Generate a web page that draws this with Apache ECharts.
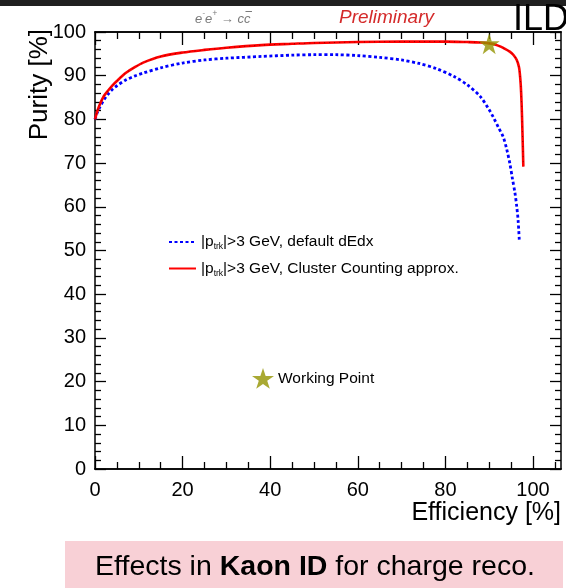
<!DOCTYPE html>
<html>
<head>
<meta charset="utf-8">
<script src="https://cdn.jsdelivr.net/npm/echarts@6/dist/echarts.min.js"></script>
<style>
  html, body { margin: 0; padding: 0; background: #fff; }
  #chart { width: 566px; height: 588px; }
</style>
</head>
<body>
<div id="chart"></div>
<script>
// Purity vs efficiency for kaon ID, |p_trk| > 3 GeV
const effDefault = [0, 0.5, 1, 2, 3, 4, 5, 7, 9, 11, 15, 20, 25, 30, 38, 45, 50, 55, 60, 65, 70, 74, 78, 82, 85, 88, 90, 91, 92.2, 93.2, 94, 94.7, 95.3, 95.9, 96.3, 96.6, 96.9];
const purDefault = [80, 81.5, 82.6, 84.4, 85.8, 86.9, 87.7, 89, 89.9, 90.6, 91.8, 92.9, 93.6, 94.0, 94.4, 94.7, 94.8, 94.8, 94.6, 94.2, 93.6, 92.8, 91.6, 89.8, 87.9, 85.2, 82.2, 80.4, 78, 76, 73.2, 70, 66.5, 63.1, 60, 57, 52];

const effCluster = [0, 0.5, 1, 2, 3, 4, 5, 7, 9, 11, 15, 20, 25, 30, 38, 45, 50, 60, 70, 80, 85, 88, 90, 91.5, 92.5, 93.5, 94.7, 95.5, 96.3, 96.8, 97.0, 97.2, 97.4, 97.6, 97.8];
const purCluster = [80, 81.8, 83.2, 85.3, 86.6, 87.8, 88.8, 90.6, 91.9, 93.0, 94.4, 95.3, 95.9, 96.4, 97.0, 97.3, 97.5, 97.7, 97.8, 97.8, 97.7, 97.6, 97.4, 97.1, 96.7, 96.2, 95.5, 94.8, 93.6, 92, 90.5, 88, 83.7, 77, 69.2];

const workingPoint = [90, 97.3];

const xMajor = [0, 20, 40, 60, 80, 100];
const xMinor = [5, 10, 15, 25, 30, 35, 45, 50, 55, 65, 70, 75, 85, 90, 95, 105];

const FONT = '"Liberation Sans", Arial, Helvetica, sans-serif';
const STAR = 'path://M50,0 L61.8,35.3 L99,35.3 L68.8,57.1 L80.3,92.7 L50,70.9 L19.7,92.7 L31.2,57.1 L1,35.3 L38.2,35.3 Z';

const pairs = (xs, ys) => xs.map((x, i) => [x, ys[i]]);

const chart = echarts.init(document.getElementById('chart'), null, { renderer: 'canvas' });

const axisLine = { show: true, onZero: false, lineStyle: { color: '#000', width: 1.5 } };

function xAxisDef(position, values, len, labels) {
  return {
    type: 'value', position: position, min: 0, max: 106.4,
    axisLine: axisLine,
    splitLine: { show: false },
    axisTick: { show: true, inside: true, length: len, customValues: values, lineStyle: { color: '#000', width: 1.3 } },
    axisLabel: labels ? { show: true, customValues: xMajor, margin: 11, fontSize: 20, color: '#000', fontFamily: FONT } : { show: false }
  };
}
function yAxisDef(position, labels) {
  return {
    type: 'value', position: position, min: 0, max: 100, interval: 10,
    axisLine: axisLine,
    splitLine: { show: false },
    axisTick: { show: true, inside: true, length: 11, lineStyle: { color: '#000', width: 1.3 } },
    minorTick: { show: true, splitNumber: 5, length: 6, lineStyle: { color: '#000', width: 1.3 } },
    axisLabel: labels ? { show: true, margin: 9, fontSize: 20, color: '#000', fontFamily: FONT } : { show: false }
  };
}

const legendRich = { sub: { fontSize: 8.5, padding: [10, 0, 0, 0], fontFamily: FONT, color: '#000' } };
const legendText = {
  'default dEdx': '|p{sub|trk}|>3 GeV, default dEdx',
  'Cluster Counting approx.': '|p{sub|trk}|>3 GeV, Cluster Counting approx.'
};

// process label e-e+ -> c cbar, laid out piece by piece
const measureCtx = document.createElement('canvas').getContext('2d');
function textWidth(str, font) { measureCtx.font = font; return measureCtx.measureText(str).width; }
const procFont = 'italic 13px ' + FONT;
const procSupFont = 'italic 8.5px ' + FONT;
const procPieces = [
  { t: 'e', f: procFont, dy: 0 },
  { t: '-', f: procSupFont, dy: -5 },
  { t: 'e', f: procFont, dy: 0 },
  { t: '+', f: procSupFont, dy: -5 },
  { t: ' \u2192 c', f: procFont, dy: 0 },
  { t: 'c', f: procFont, dy: 0, bar: true }
];
const procGraphics = [];
let px = 195;
procPieces.forEach(p => {
  const w = textWidth(p.t, p.f);
  procGraphics.push({ type: 'text', x: px, y: 19 + p.dy, style: { text: p.t, font: p.f, fill: '#7a7a7a', verticalAlign: 'middle' }, z: 10 });
  if (p.bar) {
    procGraphics.push({ type: 'line', shape: { x1: px + 1.5, y1: 11.5, x2: px + w + 1.5, y2: 11.5 }, style: { stroke: '#7a7a7a', lineWidth: 1 }, z: 10 });
  }
  px += w;
});

chart.setOption({
  animation: false,
  backgroundColor: '#fff',
  grid: { left: 95, right: 5, top: 32, bottom: 119, containLabel: false },
  xAxis: [
    xAxisDef('bottom', xMajor, 13, true),
    xAxisDef('bottom', xMinor, 7, false),
    xAxisDef('top', xMajor, 13, false),
    xAxisDef('top', xMinor, 7, false)
  ],
  yAxis: [yAxisDef('left', true), yAxisDef('right', false)],
  legend: [
    {
      data: ['default dEdx', 'Cluster Counting approx.'],
      orient: 'vertical', left: 168, top: 234, padding: 0,
      itemWidth: 27, itemHeight: 14, itemGap: 9,
      itemStyle: { color: 'rgba(0,0,0,0)', borderWidth: 0 },
      textStyle: { fontSize: 15.5, color: '#000', fontFamily: FONT, rich: legendRich },
      formatter: name => legendText[name],
      selectedMode: false
    },
    {
      data: [{ name: 'Working Point', icon: STAR }],
      left: 252, top: 368, padding: 0,
      itemWidth: 22, itemHeight: 21, itemGap: 0,
      textStyle: { fontSize: 15.5, color: '#000', fontFamily: FONT, padding: [0, 0, 0, -1] },
      selectedMode: false
    }
  ],
  series: [
    {
      name: 'default dEdx', type: 'line', data: pairs(effDefault, purDefault),
      showSymbol: false, symbol: 'none', smooth: 0.3,
      lineStyle: { color: '#0000ff', width: 2.8, type: [3, 2.5], cap: 'butt' },
      itemStyle: { color: '#0000ff' }, z: 3
    },
    {
      name: 'Cluster Counting approx.', type: 'line', data: pairs(effCluster, purCluster),
      showSymbol: false, symbol: 'none', smooth: 0.3,
      lineStyle: { color: '#ff0000', width: 2.6 },
      itemStyle: { color: '#ff0000' }, z: 4
    },
    {
      name: 'cluster-overlay', type: 'line', data: pairs(effCluster, purCluster),
      showSymbol: false, symbol: 'none', smooth: 0.3, silent: true,
      lineStyle: { color: '#000', width: 0.8, type: [1, 4], opacity: 0.6 }, z: 5
    },
    {
      name: 'Working Point', type: 'scatter', data: [workingPoint],
      symbol: STAR, symbolSize: 21,
      itemStyle: { color: '#949400' }, z: 6
    }
  ],
  graphic: [
    { type: 'rect', shape: { x: 0, y: 0, width: 566, height: 6 }, style: { fill: '#202020' }, z: 10 },
    ...procGraphics,
    {
      type: 'text', x: 339, y: 18,
      style: { text: 'Preliminary', fill: '#d42a2a', font: 'italic 19px ' + FONT, verticalAlign: 'middle' }, z: 10
    },
    {
      type: 'text', x: 513, y: 20,
      style: { text: 'ILD', fill: '#000', font: '36px ' + FONT, verticalAlign: 'middle' }, z: 10
    },
    {
      type: 'text', x: 561, y: 513,
      style: { text: 'Efficiency [%]', fill: '#000', font: '25px ' + FONT, align: 'right', verticalAlign: 'middle' }, z: 10
    },
    {
      type: 'text', x: 40, y: 29, rotation: Math.PI / 2,
      style: { text: 'Purity [%]', fill: '#000', font: '26px ' + FONT, align: 'right', verticalAlign: 'middle' }, z: 10
    },
    { type: 'rect', shape: { x: 65, y: 541, width: 498, height: 47 }, style: { fill: '#f8d0d6' }, z: 10 },
    {
      type: 'text', x: 315, y: 567,
      style: {
        text: 'Effects in {b|Kaon ID} for charge reco.', fill: '#000', align: 'center', verticalAlign: 'middle',
        font: '28.5px ' + FONT,
        rich: { b: { fontSize: 28.5, fontWeight: 'bold', fontFamily: FONT, fill: '#000' } }
      }, z: 11
    }
  ]
});
</script>
</body>
</html>
